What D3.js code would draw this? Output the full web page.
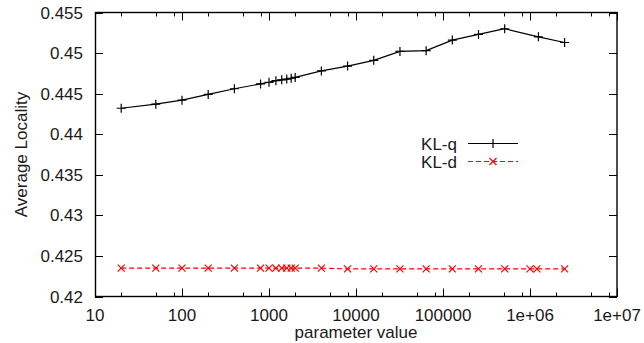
<!DOCTYPE html>
<html>
<head>
<meta charset="utf-8">
<script src="https://cdn.jsdelivr.net/npm/d3@7"></script>
<style>
	body { margin: 0; background: #fff; }
	text { font-family: "Liberation Sans", Arial, sans-serif; font-size: 17px; fill: #1a1a1a; }
</style>
</head>
<body>
<div id="chart"></div>
<script>
// parameter values (x) for both series
var kl_q_x = [20, 50, 100, 200, 400, 800, 1000, 1200, 1400, 1600, 1800, 2000, 4000, 8000, 16000, 32000, 64000, 128000, 256000, 512000, 1250000, 2500000];
var kl_q_y = [0.4432, 0.4437, 0.4442, 0.4449, 0.4456, 0.4462, 0.4464, 0.4466, 0.4467, 0.4468, 0.4469, 0.4470, 0.4478, 0.4484, 0.4491, 0.4502, 0.4503, 0.4516, 0.4523, 0.4530, 0.4520, 0.4513];

var kl_d_x = [20, 50, 100, 200, 400, 800, 1000, 1200, 1400, 1600, 1800, 2000, 4000, 8000, 16000, 32000, 64000, 128000, 256000, 512000, 1000000, 1200000, 2500000];
var kl_d_y = [0.4235, 0.4235, 0.4235, 0.4235, 0.4235, 0.4235, 0.4235, 0.4235, 0.4235, 0.4235, 0.4235, 0.4235, 0.4235, 0.4234, 0.4234, 0.4234, 0.4234, 0.4234, 0.4234, 0.4234, 0.4234, 0.4234, 0.4234];

var x_ticks = [10, 100, 1000, 10000, 100000, 1000000, 10000000];
var x_tick_labels = ["10", "100", "1000", "10000", "100000", "1e+06", "1e+07"];
var y_ticks = [0.42, 0.425, 0.43, 0.435, 0.44, 0.445, 0.45, 0.455];
var y_tick_labels = ["0.42", "0.425", "0.43", "0.435", "0.44", "0.445", "0.45", "0.455"];
var minor_mult = [2, 5, 8];

var series_names = ["KL-q", "KL-d"];

function drawChart() {
	var width = 644,
		height = 343;
	var left = 95, right = 617, top = 12.5, bottom = 296.5;

	var svg = d3.select("#chart").append("svg")
		.attr("width", width)
		.attr("height", height);

	var x = d3.scaleLog().domain([10, 1e7]).range([left, right]);
	var y = d3.scaleLinear().domain([0.42, 0.455]).range([bottom, top]);

	// minor x ticks (log axis)
	var minor = [];
	x_ticks.slice(0, -1).forEach(function(t) {
		minor_mult.forEach(function(m) { minor.push(t * m); });
	});

	var ticks = svg.append("g").attr("stroke", "#000").attr("stroke-width", 1);
	x_ticks.forEach(function(t) {
		var px = Math.round(x(t)) + 0.5;
		ticks.append("line").attr("x1", px).attr("x2", px).attr("y1", bottom).attr("y2", bottom - 8);
		ticks.append("line").attr("x1", px).attr("x2", px).attr("y1", top).attr("y2", top + 8);
	});
	minor.forEach(function(t) {
		var px = Math.round(x(t)) + 0.5;
		ticks.append("line").attr("x1", px).attr("x2", px).attr("y1", bottom).attr("y2", bottom - 4);
		ticks.append("line").attr("x1", px).attr("x2", px).attr("y1", top).attr("y2", top + 4);
	});
	y_ticks.forEach(function(t) {
		var py = Math.round(y(t)) + 0.5;
		ticks.append("line").attr("x1", left).attr("x2", left + 8).attr("y1", py).attr("y2", py);
		ticks.append("line").attr("x1", right).attr("x2", right - 8).attr("y1", py).attr("y2", py);
	});

	// tick labels
	svg.selectAll("text.xtick")
		.data(x_ticks)
		.enter()
			.append("text")
			.attr("class", "xtick")
			.attr("x", function(d) { return x(d); })
			.attr("y", 320.5)
			.attr("text-anchor", "middle")
			.text(function(d, i) { return x_tick_labels[i]; });

	svg.selectAll("text.ytick")
		.data(y_ticks)
		.enter()
			.append("text")
			.attr("class", "ytick")
			.attr("x", 83)
			.attr("y", function(d) { return y(d); })
			.attr("dy", "0.36em")
			.attr("text-anchor", "end")
			.text(function(d, i) { return y_tick_labels[i]; });

	// axis titles
	svg.append("text")
		.attr("x", (left + right) / 2)
		.attr("y", 338)
		.attr("text-anchor", "middle")
		.text("parameter value");
	svg.append("text")
		.attr("transform", "translate(27," + ((top + bottom) / 2) + ") rotate(-90)")
		.attr("text-anchor", "middle")
		.text("Average Locality");

	// border
	svg.append("rect")
		.attr("x", left + 0.5)
		.attr("y", top)
		.attr("width", right - left - 0.5)
		.attr("height", bottom - top)
		.style("fill", "none")
		.style("stroke", "#000")
		.style("stroke-width", "1.4px");

	var line = d3.line()
		.x(function(d) { return x(d[0]); })
		.y(function(d) { return y(d[1]); });

	var q_pts = d3.zip(kl_q_x, kl_q_y);
	var d_pts = d3.zip(kl_d_x, kl_d_y);

	svg.append("path")
		.attr("d", line(q_pts))
		.style("fill", "none")
		.style("stroke", "#000")
		.style("stroke-width", "1.2px");
	svg.append("path")
		.attr("d", line(d_pts))
		.style("fill", "none")
		.style("stroke", "#f00")
		.style("stroke-width", "1.2px")
		.style("stroke-dasharray", "5,3");

	var plus = function(cx, cy) {
		return "M" + (cx - 4.5) + "," + cy + "H" + (cx + 4.5) + "M" + cx + "," + (cy - 4.5) + "V" + (cy + 4.5);
	};
	var cross = function(cx, cy) {
		return "M" + (cx - 3.5) + "," + (cy - 3.5) + "L" + (cx + 3.5) + "," + (cy + 3.5) +
			"M" + (cx - 3.5) + "," + (cy + 3.5) + "L" + (cx + 3.5) + "," + (cy - 3.5);
	};

	svg.selectAll("path.qpt")
		.data(q_pts)
		.enter()
			.append("path")
			.attr("class", "qpt")
			.attr("d", function(d) { return plus(x(d[0]), y(d[1])); })
			.style("stroke", "#000")
			.style("stroke-width", "1.2px");
	svg.selectAll("path.dpt")
		.data(d_pts)
		.enter()
			.append("path")
			.attr("class", "dpt")
			.attr("d", function(d) { return cross(x(d[0]), y(d[1])); })
			.style("stroke", "#f00")
			.style("stroke-width", "1.2px");

	// legend
	var leg = [[series_names[0], 143.5, "#000", null, plus], [series_names[1], 161.5, "#f00", "5,3", cross]];
	leg.forEach(function(l) {
		svg.append("text")
			.attr("x", 457)
			.attr("y", l[1])
			.attr("dy", "0.36em")
			.attr("text-anchor", "end")
			.text(l[0]);
		svg.append("line")
			.attr("x1", 468).attr("x2", 518)
			.attr("y1", l[1]).attr("y2", l[1])
			.style("stroke", l[2])
			.style("stroke-width", "1.2px")
			.style("stroke-dasharray", l[3]);
		svg.append("path")
			.attr("d", l[4](493, l[1]))
			.style("stroke", l[2])
			.style("stroke-width", "1.2px");
	});
}

drawChart();
</script>
</body>
</html>
